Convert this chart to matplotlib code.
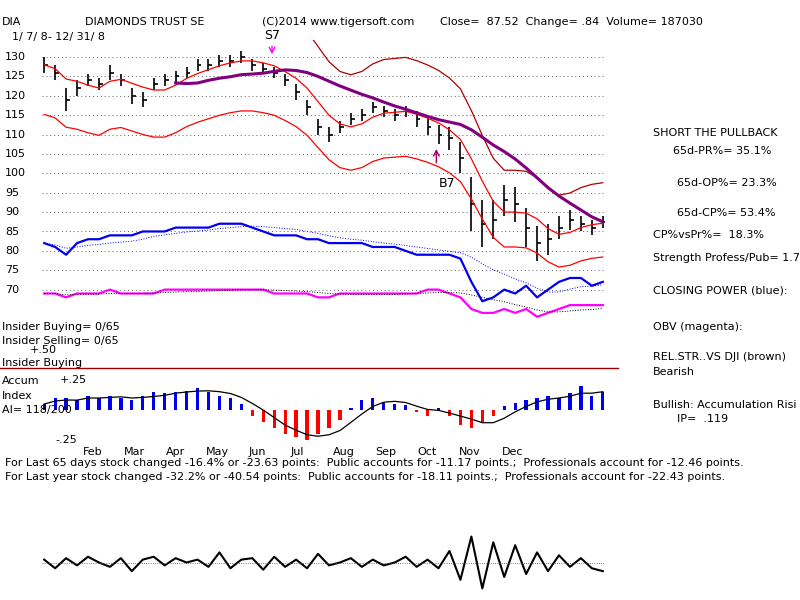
import numpy as np
import pandas as pd
import matplotlib
matplotlib.use("Agg")
import matplotlib.pyplot as plt

plt.rcParams['font.family'] = ['DejaVu Sans']

# weekly closes, DIA 2008
close = [128, 126, 119, 122, 124, 123, 126, 124, 120, 119, 123, 124, 125, 126, 128, 128,
         129, 129, 130, 128, 127, 126, 124, 121, 117, 112, 110, 112, 114, 115, 117, 116,
         115, 116, 114, 112, 110, 109, 104, 92, 87, 88, 93, 92, 86, 82, 83, 86, 88, 87, 86, 87.5]
spread = [4, 4, 6, 4, 3, 3, 4, 3, 4, 4, 3, 3, 3, 3, 3, 3, 3, 3, 3, 3, 3, 3, 3, 4, 4, 4,
          4, 3, 3, 3, 3, 3, 3, 3, 4, 4, 5, 6, 8, 14, 12, 10, 8, 9, 10, 9, 8, 6, 5, 4, 4, 3]
closing_power = [82, 81, 79, 82, 83, 83, 84, 84, 84, 85, 85, 85, 86, 86, 86, 86, 87, 87, 87, 86,
                 85, 84, 84, 84, 83, 83, 82, 82, 82, 82, 81, 81, 81, 80, 79, 79, 79, 79, 78, 72,
                 67, 68, 70, 69, 71, 68, 70, 72, 73, 73, 71, 72]
obv = [69, 69, 68, 69, 69, 69, 70, 69, 69, 69, 69, 70, 70, 70, 70, 70, 70, 70, 70, 70, 70, 69,
       69, 69, 69, 68, 68, 69, 69, 69, 69, 69, 69, 69, 69, 70, 70, 69, 68, 65, 64, 64, 65, 64,
       65, 63, 64, 65, 66, 66, 66, 66]
accum = [0.05, 0.1, 0.1, 0.08, 0.12, 0.1, 0.12, 0.1, 0.08, 0.12, 0.15, 0.14, 0.15, 0.16, 0.18,
         0.15, 0.12, 0.1, 0.05, -0.05, -0.1, -0.15, -0.2, -0.22, -0.25, -0.2, -0.15, -0.08, 0.02,
         0.08, 0.1, 0.06, 0.05, 0.04, -0.02, -0.05, 0.02, -0.05, -0.12, -0.15, -0.1, -0.05, 0.03,
         0.06, 0.08, 0.1, 0.12, 0.1, 0.14, 0.2, 0.12, 0.15]
osc = [0.1, -0.2, 0.15, -0.1, 0.2, 0.0, -0.15, 0.15, -0.3, 0.1, 0.2, -0.1, 0.15, 0.0, 0.1, -0.15,
       0.35, -0.2, 0.1, 0.15, -0.25, 0.2, -0.15, 0.1, -0.2, 0.3, -0.1, 0.0, 0.15, -0.15, 0.1, -0.1,
       0.0, 0.2, -0.15, 0.1, -0.2, 0.4, -0.6, 0.9, -0.9, 0.7, -0.5, 0.6, -0.4, 0.35, -0.3, 0.25,
       -0.15, 0.15, -0.2, -0.3]
months = ['Feb', 'Mar', 'Apr', 'May', 'Jun', 'Jul', 'Aug', 'Sep', 'Oct', 'Nov', 'Dec']
month_pos = [3.5, 7.3, 11.1, 14.8, 18.7, 22.5, 26.4, 30.2, 34.1, 37.9, 41.8]

wk = np.arange(len(close))
c = pd.Series(close, dtype=float)
ma21 = c.rolling(4, min_periods=1).mean()
ma65 = c.rolling(13).mean()
cp_ma = pd.Series(closing_power, dtype=float).rolling(8, min_periods=1).mean()
obv_ma = pd.Series(obv, dtype=float).rolling(8, min_periods=1).mean()
acc_ma = pd.Series(accum).rolling(4, min_periods=1).mean()

fig = plt.figure(figsize=(8, 6), dpi=100)
fs = 8
xl = (-0.2, 51.2)

def frac(x0, y0, x1, y1):
    return [x0 / 800, 1 - y1 / 600, (x1 - x0) / 800, (y1 - y0) / 600]

# price panel
ax = fig.add_axes(frac(42, 40, 605, 340))
ax.set_xlim(xl)
ax.set_ylim(57, 134.4)
ax.axis('off')
for lv in range(70, 131, 5):
    ax.axhline(lv, color='#606060', ls=(0, (1, 3)), lw=0.7)
lo = np.array(close) - np.array(spread) / 2
hi = np.array(close) + np.array(spread) / 2
ax.vlines(wk, lo, hi, color='black', lw=1.2)
ax.hlines(close, wk, wk + 0.35, color='black', lw=1.2)
ax.plot(wk, ma21, color='red', lw=0.9)
ax.plot(wk, ma21 * 1.12, color='#b00000', lw=0.9)
ax.plot(wk, ma21 * 0.9, color='red', lw=0.9)
ax.plot(wk, ma65, color='#800080', lw=2.2)
ax.plot(wk, closing_power, color='#0000ee', lw=1.6)
ax.plot(wk, cp_ma, color='#0000ee', lw=0.7, ls=':')
ax.plot(wk, obv, color='#ff00ff', lw=1.6)
ax.plot(wk, obv_ma, color='black', lw=0.7, ls=':')
ax.annotate('', xy=(20.8, 130.0), xytext=(20.8, 133.5),
            arrowprops=dict(arrowstyle='->', color='#ff00ff', lw=1))
ax.text(20.8, 134.0, 'S7', fontsize=9, ha='center', va='bottom', clip_on=False)
ax.annotate('', xy=(35.8, 107), xytext=(35.8, 102),
            arrowprops=dict(arrowstyle='->', color='#a00060', lw=1))
ax.text(36.0, 97.5, 'B7', fontsize=9, ha='left', va='center')
for lv in range(70, 131, 5):
    fig.text(5 / 800, 1 - (57 + (130 - lv) * 3.88) / 600, str(lv), fontsize=fs, va='center')

# accumulation panel
ax2 = fig.add_axes(frac(42, 345, 605, 445))
ax2.set_xlim(xl)
ax2.set_ylim(-0.29, 0.54)
ax2.axis('off')
acc = np.array(accum)
ax2.bar(wk, acc, width=0.3, color=np.where(acc >= 0, '#0000ee', 'red'))
ax2.plot(wk, acc_ma, color='black', lw=0.9)
fig.add_artist(plt.Line2D([0, 618 / 800], [1 - 368 / 600] * 2, color='#a00000', lw=1))
for p, m in zip(month_pos, months):
    ax2.text(p, -0.35, m, fontsize=fs, ha='left', va='center', clip_on=False)

# oscillator panel
ax3 = fig.add_axes(frac(42, 525, 605, 600))
ax3.set_xlim(xl)
ax3.set_ylim(-1.3, 1.3)
ax3.axis('off')
ax3.plot(wk, osc, color='black', lw=1.5)
ax3.axhline(0, color='red', lw=0.6, ls=':')

def t(x, y, s, **kw):
    fig.text(x / 800, 1 - y / 600, s, fontsize=fs, va='center', **kw)

t(2, 22, 'DIA')
t(85, 22, 'DIAMONDS TRUST SE')
t(262, 22, '(C)2014 www.tigersoft.com')
t(440, 22, 'Close=  87.52  Change= .84  Volume= 187030')
t(12, 37, '1/ 7/ 8- 12/ 31/ 8')
t(653, 133, 'SHORT THE PULLBACK')
t(673, 151, '65d-PR%= 35.1%')
t(677, 183, '65d-OP%= 23.3%')
t(677, 213, '65d-CP%= 53.4%')
t(653, 235, 'CP%vsPr%=  18.3%')
t(653, 258, 'Strength Profess/Pub= 1.7')
t(653, 290, 'CLOSING POWER (blue):')
t(653, 327, 'OBV (magenta):')
t(653, 357, 'REL.STR..VS DJI (brown)')
t(653, 372, 'Bearish')
t(653, 405, 'Bullish: Accumulation Risi')
t(677, 419, 'IP=  .119')
t(2, 327, 'Insider Buying= 0/65')
t(2, 341, 'Insider Selling= 0/65')
t(30, 350, '+.50')
t(2, 363, 'Insider Buying')
t(2, 381, 'Accum')
t(60, 380, '+.25')
t(2, 396, 'Index')
t(2, 410, 'AI= 118/200')
t(55, 440, '-.25')
t(5, 463, 'For Last 65 days stock changed -16.4% or -23.63 points:  Public accounts for -11.17 points.;  Professionals account for -12.46 points.')
t(5, 477, 'For Last year stock changed -32.2% or -40.54 points:  Public accounts for -18.11 points.;  Professionals account for -22.43 points.')

fig.savefig('out.png', dpi=100)
